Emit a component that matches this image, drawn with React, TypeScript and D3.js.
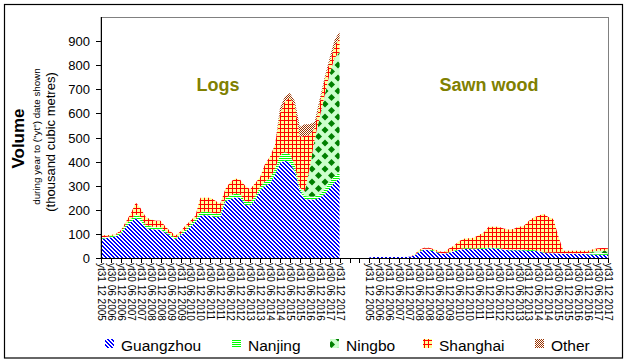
import * as d3 from 'd3';

// semi-annual tick labels, repeated for both sections
const tickLabels = [
  'yt31 12 2005', 'yt30 06 2006', 'yt31 12 2006', 'yt30 06 2007', 'yt31 12 2007',
  'yt30 06 2008', 'yt31 12 2008', 'yt30 06 2009', 'yt31 12 2009', 'yt30 06 2010',
  'yt31 12 2010', 'yt30 06 2011', 'yt31 12 2011', 'yt30 06 2012', 'yt31 12 2012',
  'yt30 06 2013', 'yt31 12 2013', 'yt30 06 2014', 'yt31 12 2014', 'yt30 06 2015',
  'yt31 12 2015', 'yt30 06 2016', 'yt31 12 2016', 'yt30 06 2017', 'yt31 12 2017',
];

const ports = ['Guangzhou', 'Nanjing', 'Ningbo', 'Shanghai', 'Other'];

// quarterly readings, Dec 2005 .. Dec 2017 (thousand m3)
const logsGuangzhou = [80, 82, 86, 90, 100, 130, 150, 165, 155, 125, 120, 118, 118, 105, 90, 78, 95, 110, 130, 150, 175, 178, 175, 170, 172, 235, 245, 252, 250, 220, 218, 240, 280, 300, 310, 345, 395, 405, 395, 360, 280, 245, 243, 243, 250, 265, 290, 315, 330];
const logsNanjing = [5, 5, 5, 5, 8, 10, 12, 15, 15, 12, 12, 10, 10, 8, 6, 5, 6, 8, 10, 12, 15, 15, 15, 15, 15, 12, 15, 15, 15, 15, 15, 15, 15, 18, 20, 25, 30, 35, 35, 25, 12, 12, 12, 12, 15, 20, 25, 25, 25];
const logsNingbo = [0, 0, 0, 0, 0, 0, 0, 0, 0, 0, 0, 0, 0, 0, 0, 0, 0, 0, 0, 0, 0, 0, 0, 0, 0, 0, 0, 0, 0, 0, 0, 0, 0, 0, 0, 0, 0, 0, 0, 0, 0, 20, 120, 240, 320, 390, 450, 490, 500];
const logsShanghai = [9, 7, 4, 5, 7, 10, 23, 50, 35, 33, 28, 27, 27, 17, 14, 10, 9, 17, 15, 13, 60, 57, 60, 53, 38, 38, 55, 63, 60, 65, 52, 55, 40, 72, 90, 100, 175, 210, 235, 250, 210, 230, 135, 45, 60, 65, 50, 50, 60];
const logsOther = [0, 0, 0, 0, 0, 0, 0, 0, 0, 0, 0, 0, 0, 0, 0, 0, 0, 0, 0, 0, 0, 0, 0, 0, 0, 0, 0, 0, 0, 0, 0, 0, 0, 0, 0, 0, 20, 20, 20, 15, 43, 48, 45, 25, 15, 10, 15, 25, 25];

const sawnGuangzhou = [3, 4, 4, 4, 4, 4, 4, 4, 5, 10, 25, 35, 33, 28, 20, 18, 22, 28, 33, 37, 37, 36, 37, 38, 40, 40, 38, 34, 32, 32, 32, 32, 30, 30, 28, 22, 20, 20, 19, 18, 18, 18, 18, 17, 16, 15, 14, 14, 12];
const sawnNanjing = [0, 0, 0, 0, 0, 0, 0, 0, 0, 0, 3, 3, 5, 3, 2, 2, 2, 3, 3, 3, 3, 3, 3, 3, 3, 3, 3, 3, 3, 3, 3, 3, 3, 3, 2, 2, 2, 2, 2, 2, 2, 2, 2, 3, 5, 8, 8, 7, 8];
const sawnNingbo = [0, 0, 0, 0, 0, 0, 0, 0, 0, 0, 0, 0, 0, 0, 0, 0, 0, 0, 0, 0, 0, 0, 0, 0, 0, 0, 0, 0, 0, 0, 0, 0, 0, 0, 0, 0, 0, 0, 0, 0, 0, 0, 0, 0, 0, 5, 8, 10, 10];
const sawnShanghai = [0, 0, 0, 0, 0, 0, 0, 0, 0, 3, 5, 5, 5, 5, 6, 5, 15, 20, 34, 40, 42, 45, 55, 65, 87, 87, 89, 85, 83, 85, 95, 97, 120, 135, 145, 160, 148, 140, 70, 10, 10, 10, 10, 10, 9, 8, 10, 10, 10];
const sawnOther = [0, 0, 0, 0, 0, 0, 0, 0, 0, 0, 0, 0, 0, 0, 0, 0, 0, 0, 0, 0, 0, 0, 0, 0, 0, 0, 0, 0, 0, 0, 0, 0, 0, 0, 0, 0, 0, 0, 0, 0, 0, 0, 0, 0, 0, 0, 0, 0, 0];

const sections = [
  { name: 'Logs', start: 0, values: [logsGuangzhou, logsNanjing, logsNingbo, logsShanghai, logsOther] },
  { name: 'Sawn wood', start: 54, values: [sawnGuangzhou, sawnNanjing, sawnNingbo, sawnShanghai, sawnOther] },
];

const font = 'Liberation Sans, Arial, sans-serif';
const patternIds = ['pGuangzhou', 'pNanjing', 'pNingbo', 'pShanghai', 'pOther'];

const plot = { left: 101, right: 608, top: 17, bottom: 258 };

function Patterns() {
  // blue "\" diagonal
  const diag: JSX.Element[] = [];
  for (let py = 0; py < 4; py++) {
    for (let px = 0; px < 4; px++) {
      if ((((px - py) % 4) + 4) % 4 < 2) diag.push(<rect key={px + '-' + py} x={px} y={py} width={1} height={1} fill="#0000ff" />);
    }
  }
  return (
    <defs>
      <pattern id="pGuangzhou" width={4} height={4} patternUnits="userSpaceOnUse">
        <rect width={4} height={4} fill="#fff" />
        {diag}
      </pattern>
      <pattern id="pNanjing" width={2} height={2} patternUnits="userSpaceOnUse">
        <rect width={2} height={2} fill="#fff" />
        <rect width={2} height={1} fill="#00ff00" />
      </pattern>
      <pattern id="pNingbo" width={13} height={13} patternUnits="userSpaceOnUse">
        <rect width={13} height={13} fill="#ccffcc" />
        <path d="M6.5,3 L10,6.5 L6.5,10 L3,6.5Z" fill="#008000" />
        <path d="M0,-3.5 L3.5,0 L0,3.5 L-3.5,0Z M13,-3.5 L16.5,0 L13,3.5 L9.5,0Z M0,9.5 L3.5,13 L0,16.5 L-3.5,13Z M13,9.5 L16.5,13 L13,16.5 L9.5,13Z" fill="#008000" />
      </pattern>
      <pattern id="pShanghai" width={4} height={4} patternUnits="userSpaceOnUse">
        <rect width={4} height={4} fill="#ffff99" />
        <rect width={4} height={1} fill="#ff0000" />
        <rect width={1} height={4} fill="#ff0000" />
      </pattern>
      <pattern id="pOther" width={2} height={2} patternUnits="userSpaceOnUse">
        <rect width={2} height={2} fill="#fff" />
        <rect width={1} height={1} fill="#993300" />
        <rect x={1} y={1} width={1} height={1} fill="#993300" />
      </pattern>
    </defs>
  );
}

export default function App() {
  const x = d3.scaleLinear().domain([0, 102]).range([plot.left, plot.right]);
  const y = d3.scaleLinear().domain([0, 1000]).range([plot.bottom, plot.top]);

  const xTicks = d3.range(0, 103, 2);
  const yTicks = d3.range(0, 1000, 100);

  const labelFor = (t: number) => {
    if (t <= 48) return tickLabels[t / 2];
    if (t >= 54) return tickLabels[(t - 54) / 2];
    return '';
  };

  const legendX = [105, 232, 330, 423, 535];

  return (
    <div style={{ position: 'absolute', left: 0, top: 0 }}>
      <svg width={628} height={362} style={{ display: 'block', fontFamily: font }}>
        <Patterns />
        <rect x={0} y={0} width={628} height={362} fill="#fff" />
        <rect x={4.5} y={4.5} width={618} height={353.5} fill="none" stroke="#000" strokeWidth={1.2} />

        {/* plot area border */}
        <rect x={plot.left} y={plot.top + 0.5} width={plot.right - plot.left + 0.5} height={plot.bottom - plot.top} fill="none" stroke="#808080" />

        {sections.map((sec) => {
          const rows = sec.values[0].map((_, i) => {
            const r: Record<string, number> = {};
            ports.forEach((p, k) => { r[p] = sec.values[k][i]; });
            return r;
          });
          const stacked = d3.stack<Record<string, number>>().keys(ports)(rows);
          const area = d3.area<d3.SeriesPoint<Record<string, number>>>()
            .x((_, i) => x(sec.start + i))
            .y0((d) => y(d[0]))
            .y1((d) => y(d[1]));
          return (
            <g key={sec.name}>
              {stacked.map((s, k) => (
                <path key={s.key} d={area(s) || ''} fill={`url(#${patternIds[k]})`} />
              ))}
            </g>
          );
        })}

        {/* section titles */}
        <text x={218} y={91} textAnchor="middle" fontSize={18} fontWeight="bold" fill="#808000">Logs</text>
        <text x={489} y={91} textAnchor="middle" fontSize={18} fontWeight="bold" fill="#808000">Sawn wood</text>

        {/* y axis */}
        <line x1={plot.left + 0.5} x2={plot.left + 0.5} y1={plot.top} y2={plot.bottom} stroke="#000" />
        {yTicks.map((t) => (
          <g key={t} transform={`translate(0,${Math.round(y(t)) + 0.5})`}>
            <line x1={plot.left - 5} x2={plot.left} stroke="#000" />
            <text x={plot.left - 11} dy="0.35em" textAnchor="end" fontSize={13} fill="#000">{t}</text>
          </g>
        ))}

        {/* x axis */}
        <line x1={plot.left} x2={plot.right + 1} y1={plot.bottom + 0.5} y2={plot.bottom + 0.5} stroke="#000" />
        {xTicks.map((t) => (
          <g key={t} transform={`translate(${Math.round(x(t)) + 0.5},0)`}>
            <line y1={plot.bottom} y2={plot.bottom + 5} stroke="#000" />
            <text transform={`translate(0,${plot.bottom + 5}) rotate(90)`} dy="0.35em" fontSize={10} fill="#000">{labelFor(t)}</text>
          </g>
        ))}

        {/* y axis titles */}
        <text transform="translate(24,138.5) rotate(-90)" textAnchor="middle" fontSize={17} fontWeight="bold" fill="#000">Volume</text>
        <text transform="translate(40,136.5) rotate(-90)" textAnchor="middle" fontSize={9.8} fill="#000">during year to ("yt") date shown</text>
        <text transform="translate(54.5,142) rotate(-90)" textAnchor="middle" fontSize={13} fill="#000">(thousand cubic metres)</text>

        {/* legend */}
        {ports.map((p, k) => (
          <g key={p}>
            <rect x={legendX[k]} y={339} width={9} height={9} fill={`url(#${patternIds[k]})`} />
            <text x={legendX[k] + 16} y={351} fontSize={15.5} fill="#000">{p}</text>
          </g>
        ))}
      </svg>
    </div>
  );
}
